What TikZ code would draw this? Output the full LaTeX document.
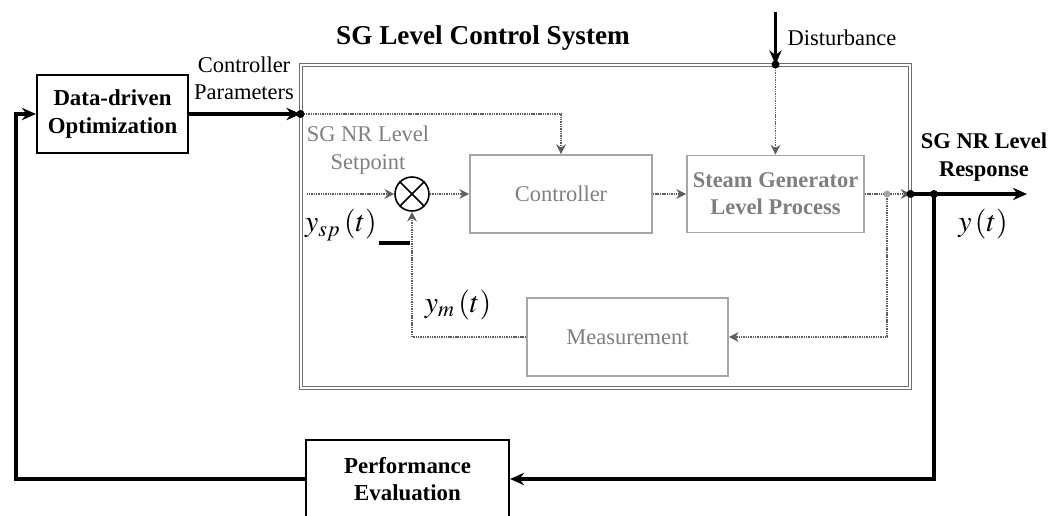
\documentclass[tikz,border=0pt]{standalone}
\usepackage{mathptmx}
\usepackage{fontspec}
\setmainfont{Liberation Serif}
\usetikzlibrary{arrows.meta}
\definecolor{boxgray}{HTML}{A6A6A6}
\definecolor{txtgray}{HTML}{7F7F7F}
\definecolor{siggray}{HTML}{5E5E5E}
\definecolor{framegray}{HTML}{6E6E6E}
\begin{document}
\begin{tikzpicture}[x=0.02cm,y=-0.02cm,
  blkbox/.style={draw,line width=1.2pt,font=\fontsize{13}{15.5}\selectfont\bfseries,align=center,inner sep=0pt},
  graybox/.style={draw=boxgray,line width=1.1pt,text=txtgray,font=\fontsize{12.8}{15.5}\selectfont,align=center,inner sep=0pt},
  sig/.style={draw=siggray,line width=0.9pt,dash pattern=on 0.6pt off 0.4pt,-{Stealth[length=5.5pt,width=5.5pt]}},
  mainsig/.style={line width=2pt,-{Stealth[length=8pt,width=7pt]}},
  lbl/.style={font=\fontsize{12.8}{15.5}\selectfont,align=center},
  mathlbl/.style={font=\fontsize{17}{20}\selectfont,inner sep=0pt}]
\clip (0,0) rectangle (1063,516);
\node[draw=framegray,double,double distance=1.4pt,line width=0.6pt,minimum width=12.18cm,minimum height=6.46cm] (sys) at (605.5,226.5) {};
\node[font=\fontsize{15.5}{18}\selectfont\bfseries] (title) at (483,38) {SG Level Control System};
\node[blkbox,minimum width=3.02cm,minimum height=1.56cm] (opt) at (112.5,114) {Data-driven\\Optimization};
\node[blkbox,minimum width=4.06cm,minimum height=1.56cm] (perf) at (407.5,479) {Performance\\Evaluation};
\node[graybox,minimum width=3.64cm,minimum height=1.56cm] (ctrl) at (561,194) {Controller};
\node[graybox,font=\fontsize{12.8}{15.5}\selectfont\bfseries,minimum width=3.54cm,minimum height=1.54cm] (proc) at (775.5,194) {Steam Generator\\Level Process};
\node[graybox,minimum width=4.02cm,minimum height=1.56cm] (meas) at (627.5,337) {Measurement};
\node[draw,circle,line width=0.9pt,minimum size=0.68cm,inner sep=0pt] (sum) at (412,194) {};
\draw[line width=0.9pt] (sum.north west) -- (sum.south east) (sum.north east) -- (sum.south west);
% junction points
\coordinate (cp) at (sys.west |- opt);
\coordinate (dtop) at (775.5,12);
\coordinate (dist) at (proc |- sys.north);
\coordinate (out) at (sys.east |- proc);
\coordinate (br) at (887,194);
\coordinate (ob) at (934,194);
\coordinate (yend) at (1027,194);
\coordinate (spin) at (307,194);
\coordinate (fbl) at (16,479);
% signals
\draw[mainsig] (opt) -- (cp);
\draw[sig] (cp) -| (ctrl);
\draw[mainsig] (dtop) -- (dist);
\draw[sig] (dist) -- (proc);
\draw[sig] (spin) -- (sum);
\draw[sig] (sum) -- (ctrl);
\draw[sig] (ctrl) -- (proc);
\draw[sig] (proc) -- (out);
\draw[sig] (br) |- (meas);
\draw[sig] (meas) -| (sum);
\draw[mainsig] (out) -- (yend);
\draw[mainsig] (ob) |- (perf);
\draw[mainsig] (perf) -- (fbl) |- (opt);
\fill (cp) circle (4);
\fill (dist) circle (4);
\fill (out) circle (4);
\fill (ob) circle (4);
\fill[boxgray] (br) circle (3.5);
% labels
\node[lbl] (cplbl) at (244,78) {Controller\\Parameters};
\node[lbl,text=txtgray] (splbl) at (368,150) {SG NR Level\\Setpoint};
\node[lbl] (dlbl) at (842,38) {Disturbance};
\node[lbl,font=\fontsize{12.8}{15.5}\selectfont\bfseries] (rlbl) at (984,157) {SG NR Level\\Response};
\node[mathlbl] (ysp) at (341,225) {$y_{sp}\,(t)$};
\node[mathlbl] (ym) at (458,305) {$y_m\,(t)$};
\node[mathlbl] (yout) at (983,224) {$y\,(t)$};
\draw[line width=2.2pt] (379,243) -- (410,243);
\end{tikzpicture}
\end{document}
